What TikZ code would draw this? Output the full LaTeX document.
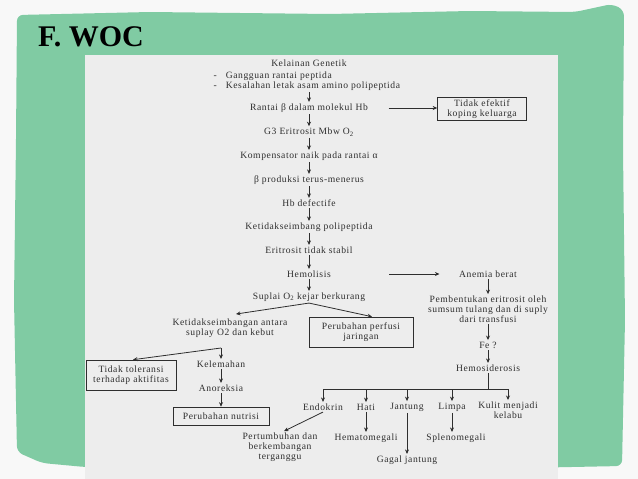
\documentclass[tikz,border=0pt]{standalone}
\usepackage{fontspec}
\setmainfont{Liberation Serif}
\newfontfamily\wocfont[LetterSpace=6]{Liberation Serif}
\usetikzlibrary{arrows.meta,positioning,calc}
\definecolor{WocGreen}{HTML}{80CBA3}
\definecolor{PanelGray}{HTML}{EDEDED}
\definecolor{PageWhite}{HTML}{F8F8F8}
\definecolor{Ink}{HTML}{2E2E2E}

\tikzset{
  txt/.style={font=\wocfont\fontsize{9.6}{9.8}\selectfont, text=Ink, inner sep=1.5pt, align=center},
  box/.style={txt, draw=Ink, line width=0.6pt, inner sep=0pt},
  arr/.style={-{Stealth[length=4.5pt,width=4pt]}, draw=Ink, line width=0.8pt},
  ln/.style={draw=Ink, line width=0.8pt}
}

\begin{document}
\begin{tikzpicture}[x=1pt,y=-1pt]
  \useasboundingbox (0,0) rectangle (638,479);
  \fill[PageWhite] (0,0) rectangle (638,479);
  % green sheet and grey panel
  \fill[WocGreen, rounded corners=6pt] (17,15) -- (150,12) -- (330,14) -- (470,11)
    -- (575,12) -- (612,4) -- (624,10) -- (623,150) -- (625,320) -- (622,466)
    -- (420,470) -- (85,467) -- (42,463) -- (17,452) -- (14,300) -- (16,140) -- cycle;
  \fill[PanelGray] (85,55) rectangle (558,479);
  \node[font=\bfseries\fontsize{30}{30}\selectfont, anchor=base west, inner sep=0pt] (title) at (38,46) {F. WOC};

  % main chain
  \node[txt] (gen) at (309,63) {Kelainan Genetik};
  \node[txt, anchor=west] (g1) at (212,76) {-\hspace{9pt}Gangguan rantai peptida};
  \node[txt, anchor=west] (g2) at (212,86) {-\hspace{9pt}Kesalahan letak asam amino polipeptida};
  \node[txt] (rantai) at (309,108) {Rantai β dalam molekul Hb};
  \node[box, minimum width=89pt, minimum height=23pt] (koping) at (482,109) {Tidak efektif\\koping keluarga};
  \node[txt] (g3) at (309,132) {G3 Eritrosit Mbw O\textsubscript{2}};
  \node[txt] (komp) at (309,156) {Kompensator naik pada rantai α};
  \node[txt] (prod) at (309,180) {β produksi terus-menerus};
  \node[txt] (hb) at (309,203) {Hb defectife};
  \node[txt] (poli) at (309,227) {Ketidakseimbang polipeptida};
  \node[txt] (eri) at (309,250) {Eritrosit tidak stabil};
  \node[txt] (hemo) at (309,274) {Hemolisis};
  \node[txt] (sup) at (309,297) {Suplai O\textsubscript{2} kejar berkurang};

  % left branch
  \node[txt] (keti) at (230,328) {Ketidakseimbangan antara\\suplay O2 dan kebut};
  \node[box, minimum width=104pt, minimum height=30pt] (perf) at (361,332) {Perubahan perfusi\\jaringan};
  \coordinate (split) at (221,348);
  \node[box, minimum width=90pt, minimum height=30pt] (tol) at (131,375) {Tidak toleransi\\terhadap aktifitas};
  \node[txt] (kel) at (221,364) {Kelemahan};
  \node[txt] (anor) at (221,388) {Anoreksia};
  \node[box, minimum width=96pt, minimum height=18pt] (nutri) at (221,416) {Perubahan nutrisi};

  % right branch
  \node[txt] (anemia) at (488,274) {Anemia berat};
  \node[txt] (pemb) at (488,309) {Pembentukan eritrosit oleh\\sumsum tulang dan di suply\\dari transfusi};
  \node[txt] (fe) at (488,345) {Fe ?};
  \node[txt] (hsd) at (488,368) {Hemosiderosis};
  \coordinate (bus) at (491,389);
  \node[txt] (endo) at (323,407) {Endokrin};
  \node[txt] (hati) at (366,407) {Hati};
  \node[txt] (jan) at (407,407) {Jantung};
  \node[txt] (limpa) at (452,407) {Limpa};
  \node[txt] (kulit) at (508,410) {Kulit menjadi\\kelabu};
  \node[txt] (pert) at (280,447) {Pertumbuhan dan\\berkembangan\\terganggu};
  \node[txt] (hepa) at (366,438) {Hematomegali};
  \node[txt] (gagal) at (407,460) {Gagal jantung};
  \node[txt] (spleno) at (456,438) {Splenomegali};

  % connectors
  \draw[arr] (rantai |- g2.south) -- (rantai);
  \foreach \a/\b in {rantai/g3, g3/komp, komp/prod, prod/hb, hb/poli, poli/eri, eri/hemo, hemo/sup, anemia/pemb, pemb/fe, fe/hsd, anor/nutri}
    \draw[arr] (\a.south) -- (\b.north);
  \draw[arr, shorten <=19pt] (rantai.east) -- (rantai.east -| koping.west);
  \draw[arr, shorten <=57pt, shorten >=18pt] (hemo) -- (anemia);
  \draw[arr] (sup.south) -- ([xshift=6pt,yshift=3pt]keti.north);
  \draw[arr] (sup.south) -- ([xshift=11pt]perf.north);
  \draw[arr] (split) -- ([xshift=2pt]tol.north);
  \draw[arr] (split) -- (kel.north);
  \draw[arr] (kel.south) -- (anor.north);
  \draw[ln] (hsd.south) -- (hsd.south |- bus) -- (bus);
  \draw[ln] (endo |- bus) -- (kulit |- bus);
  \foreach \n in {endo, hati, jan, limpa, kulit}
    \draw[arr] (\n |- bus) -- (\n.north);
  \draw[arr] (endo.south) -- ([xshift=4pt]pert.north);
  \draw[arr] (hati.south) -- (hepa.north);
  \draw[arr] (jan.south) -- (gagal.north);
  \draw[arr] (limpa.south) -- (limpa.south |- spleno.north);
\end{tikzpicture}
\end{document}
